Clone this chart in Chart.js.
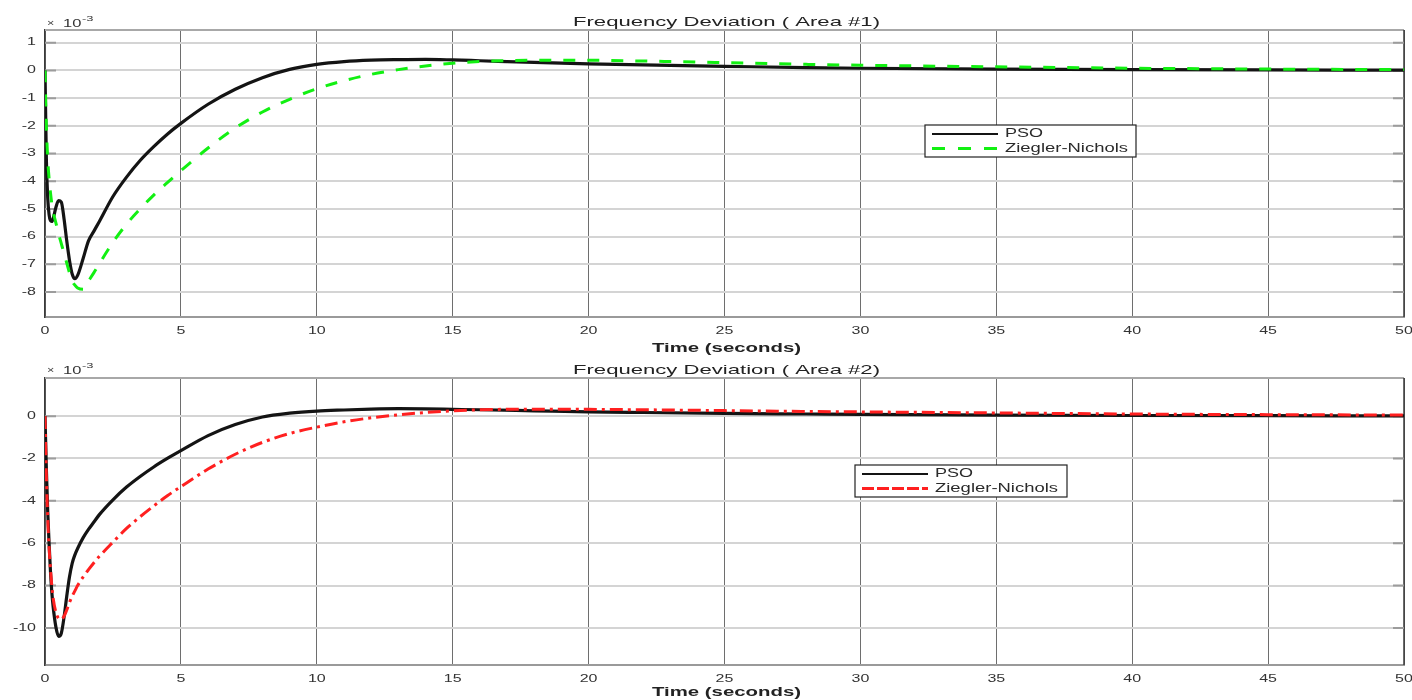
<!DOCTYPE html>
<html>
<head>
<meta charset="utf-8">
<script src="https://cdn.jsdelivr.net/npm/chart.js@4.4.1/dist/chart.umd.min.js"></script>
<style>
  html, body { margin: 0; padding: 0; background: #fff; }
  #wrap { position: relative; width: 1412px; height: 700px; overflow: hidden; }
  canvas { position: absolute; left: 0; }
  #area1 { top: 0; }
  #area2 { top: 355px; }
</style>
</head>
<body>
<div id="wrap">
  <canvas id="area1" width="1412" height="355"></canvas>
  <canvas id="area2" width="1412" height="345"></canvas>
</div>
<script>
// time base (seconds), denser around the initial dip
const timeS = [0, 0.05, 0.1, 0.15, 0.2, 0.25, 0.3, 0.4, 0.5, 0.6, 0.7, 0.8, 0.9, 1.0, 1.1, 1.2,
  1.4, 1.6, 1.8, 2.0, 2.5, 3, 3.5, 4, 4.5, 5, 6, 7, 8, 9, 10, 11, 12, 13, 14, 15, 16,
  18, 20, 22, 25, 28, 30, 35, 40, 45, 50];

// frequency deviation, units of 1e-3
const area1Pso = [0, -3.2, -4.6, -5.2, -5.42, -5.45, -5.35, -4.95, -4.7, -4.75, -5.35, -6.15, -6.85, -7.35, -7.52, -7.4,
  -6.8, -6.15, -5.8, -5.45, -4.55, -3.85, -3.25, -2.75, -2.3, -1.91, -1.22, -0.68, -0.26, 0.04, 0.22, 0.32, 0.37, 0.39, 0.4, 0.38, 0.35,
  0.29, 0.24, 0.2, 0.15, 0.1, 0.08, 0.05, 0.03, 0.02, 0.01];
const area1Zn = [0, -2.0, -3.2, -3.9, -4.4, -4.8, -5.1, -5.5, -5.9, -6.25, -6.6, -6.95, -7.3, -7.6, -7.75, -7.85,
  -7.9, -7.6, -7.3, -6.98, -6.2, -5.55, -5.0, -4.5, -4.05, -3.62, -2.8, -2.08, -1.5, -1.04, -0.66, -0.37, -0.14, 0.03, 0.16, 0.26, 0.32,
  0.37, 0.37, 0.34, 0.28, 0.22, 0.19, 0.13, 0.08, 0.05, 0.03];
const area2Pso = [0, -2.5, -4.5, -6.0, -7.3, -8.3, -9.0, -9.95, -10.4, -10.25, -9.5, -8.5, -7.6, -6.95, -6.55, -6.25,
  -5.75, -5.35, -5.0, -4.65, -3.95, -3.35, -2.85, -2.4, -2.0, -1.63, -0.92, -0.4, -0.04, 0.14, 0.24, 0.29, 0.33, 0.35, 0.34, 0.32, 0.3,
  0.25, 0.2, 0.17, 0.13, 0.1, 0.08, 0.05, 0.03, 0.02, 0.01];
const area2Zn = [0, -2.8, -4.8, -6.2, -7.2, -8.0, -8.6, -9.25, -9.55, -9.6, -9.45, -9.15, -8.8, -8.5, -8.25, -8.0,
  -7.6, -7.25, -6.92, -6.62, -5.95, -5.3, -4.75, -4.24, -3.76, -3.33, -2.5, -1.8, -1.24, -0.82, -0.52, -0.27, -0.08, 0.06, 0.17, 0.25, 0.3,
  0.33, 0.32, 0.3, 0.26, 0.22, 0.2, 0.15, 0.1, 0.07, 0.05];

const xTicks = [0, 5, 10, 15, 20, 25, 30, 35, 40, 45, 50];
const area1YTicks = [-8, -7, -6, -5, -4, -3, -2, -1, 0, 1];
const area2YTicks = [-10, -8, -6, -4, -2, 0];
const seriesNames = ['PSO', 'Ziegler-Nichols'];
const axisTitle = 'Time (seconds)';

const FONT = '"Liberation Sans", Arial, sans-serif';

// text drawn with a horizontal stretch factor
function wideText(ctx, str, x, y, font, sx, align, color) {
  ctx.save();
  ctx.font = font;
  ctx.fillStyle = color || '#222';
  ctx.textBaseline = 'middle';
  ctx.textAlign = 'left';
  const w = ctx.measureText(str).width * sx;
  const left = align === 'center' ? x - w / 2 : align === 'right' ? x - w : x;
  ctx.translate(left, y);
  ctx.scale(sx, 1);
  ctx.fillText(str, 0, 0);
  ctx.restore();
}

// same, but stretched to a given width
function fitText(ctx, str, x, y, font, width, align, color) {
  ctx.save();
  ctx.font = font;
  const sx = width / ctx.measureText(str).width;
  ctx.restore();
  wideText(ctx, str, x, y, font, sx, align, color);
}

const framePlugin = {
  id: 'frame',
  beforeDatasetsDraw(chart) {
    const { ctx, chartArea: a, scales } = chart;
    ctx.save();
    // top edge
    ctx.strokeStyle = '#a8a8a8';
    ctx.lineWidth = 2;
    ctx.beginPath();
    ctx.moveTo(a.left, a.top);
    ctx.lineTo(a.right, a.top);
    ctx.stroke();
    // right edge
    ctx.strokeStyle = '#3a3a3a';
    ctx.lineWidth = 1.5;
    ctx.beginPath();
    ctx.moveTo(a.right, a.top);
    ctx.lineTo(a.right, a.bottom);
    ctx.stroke();
    // inward tick marks on both y sides
    ctx.strokeStyle = '#9c9c9c';
    ctx.lineWidth = 2;
    scales.y.ticks.forEach(t => {
      const py = scales.y.getPixelForValue(t.value);
      ctx.beginPath();
      ctx.moveTo(a.left, py); ctx.lineTo(a.left + 11, py);
      ctx.moveTo(a.right - 11, py); ctx.lineTo(a.right, py);
      ctx.stroke();
    });
    ctx.restore();
  },
  afterDraw(chart, args, opts) {
    const { ctx, chartArea: a, scales } = chart;
    // tick labels
    scales.y.ticks.forEach(t => {
      wideText(ctx, String(t.value), a.left - 9, scales.y.getPixelForValue(t.value), '10px ' + FONT, 1.6, 'right', '#333');
    });
    scales.x.ticks.forEach(t => {
      wideText(ctx, String(t.value), scales.x.getPixelForValue(t.value), a.bottom + 14, '10px ' + FONT, 1.6, 'center', '#333');
    });
    const cx = (a.left + a.right) / 2;
    // titles
    fitText(ctx, opts.title, cx + 2, a.top - 8, '13px ' + FONT, 307, 'center', '#222');
    fitText(ctx, axisTitle, cx + 2, a.bottom + opts.xTitleOffset, 'bold 13px ' + FONT, 149, 'center', '#222');
    // exponent marker
    wideText(ctx, '\u00d7', a.left + 2, a.top - opts.expOffset, '9px ' + FONT, 1.4, 'left', '#444');
    wideText(ctx, '10', a.left + 18, a.top - opts.expOffset, '11px ' + FONT, 1.5, 'left', '#333');
    wideText(ctx, '-3', a.left + 37, a.top - opts.expOffset - 5, '8px ' + FONT, 1.6, 'left', '#333');
    // legend box
    const L = opts.legend;
    ctx.save();
    ctx.fillStyle = '#fff';
    ctx.fillRect(L.x, L.y, L.w, L.h);
    ctx.strokeStyle = '#222';
    ctx.lineWidth = 1.2;
    ctx.strokeRect(L.x, L.y, L.w, L.h);
    chart.data.datasets.forEach((ds, i) => {
      const ry = L.y + 9 + i * 14.5;
      ctx.save();
      ctx.strokeStyle = ds.borderColor;
      ctx.lineWidth = ds.legendWidth;
      ctx.setLineDash(ds.legendDash || []);
      ctx.beginPath();
      ctx.moveTo(L.x + 7, ry);
      ctx.lineTo(L.x + 73, ry);
      ctx.stroke();
      ctx.restore();
      fitText(ctx, ds.label, L.x + 80, ry, '12px ' + FONT, i === 0 ? 38 : 123, 'left', '#2a2a2a');
    });
    ctx.restore();
  }
};

function toPoints(ys) {
  return timeS.map((t, i) => ({ x: t, y: ys[i] }));
}

function makeChart(id, pso, zn, cfg) {
  return new Chart(document.getElementById(id), {
    type: 'line',
    data: {
      datasets: [
        {
          label: seriesNames[0],
          data: toPoints(pso),
          borderColor: '#141414',
          borderWidth: 3.2,
          legendWidth: 2.2,
          order: 1
        },
        {
          label: seriesNames[1],
          data: toPoints(zn),
          borderColor: cfg.znColor,
          borderWidth: 3,
          borderDash: cfg.znDash,
          legendWidth: 2.8,
          legendDash: cfg.legendDash,
          order: 0
        }
      ]
    },
    options: {
      responsive: false,
      animation: false,
      devicePixelRatio: 1,
      layout: { padding: { left: 0, right: 8, top: cfg.padTop, bottom: 0 } },
      elements: {
        point: { radius: 0, hoverRadius: 0 },
        line: { cubicInterpolationMode: 'monotone', borderCapStyle: 'butt' }
      },
      scales: {
        x: {
          type: 'linear',
          min: 0,
          max: 50,
          afterBuildTicks: s => { s.ticks = xTicks.map(v => ({ value: v })); },
          afterFit: s => { s.height = cfg.xAxisH; },
          ticks: { display: false },
          grid: { color: '#6e6e6e', lineWidth: 1, drawTicks: false },
          border: { color: '#9a9a9a', width: 2 }
        },
        y: {
          type: 'linear',
          min: cfg.yMin,
          max: cfg.yMax,
          afterBuildTicks: s => { s.ticks = cfg.yTicks.map(v => ({ value: v })); },
          afterFit: s => { s.width = 45; },
          ticks: { display: false },
          grid: { color: '#d4d4d4', lineWidth: 2, drawTicks: false },
          border: { color: '#3a3a3a', width: 1.5 }
        }
      },
      plugins: {
        legend: { display: false },
        tooltip: { enabled: false },
        frame: {
          title: cfg.title,
          xTitleOffset: cfg.xTitleOffset,
          expOffset: cfg.expOffset,
          legend: cfg.legend
        }
      }
    },
    plugins: [framePlugin]
  });
}

makeChart('area1', area1Pso, area1Zn, {
  title: 'Frequency Deviation ( Area #1)',
  yMin: -8.9, yMax: 1.46, yTicks: area1YTicks,
  padTop: 30, xAxisH: 38, xTitleOffset: 31, expOffset: 6,
  znColor: '#12f012', znDash: [12, 12], legendDash: [13, 13],
  legend: { x: 925, y: 125, w: 211, h: 32 }
});

makeChart('area2', area2Pso, area2Zn, {
  title: 'Frequency Deviation ( Area #2)',
  yMin: -11.75, yMax: 1.8, yTicks: area2YTicks,
  padTop: 23, xAxisH: 35, xTitleOffset: 27, expOffset: 7,
  znColor: '#ff2020', znDash: [13, 5, 3, 5], legendDash: [12, 3],
  legend: { x: 855, y: 110, w: 212, h: 32 }
});
</script>
</body>
</html>
